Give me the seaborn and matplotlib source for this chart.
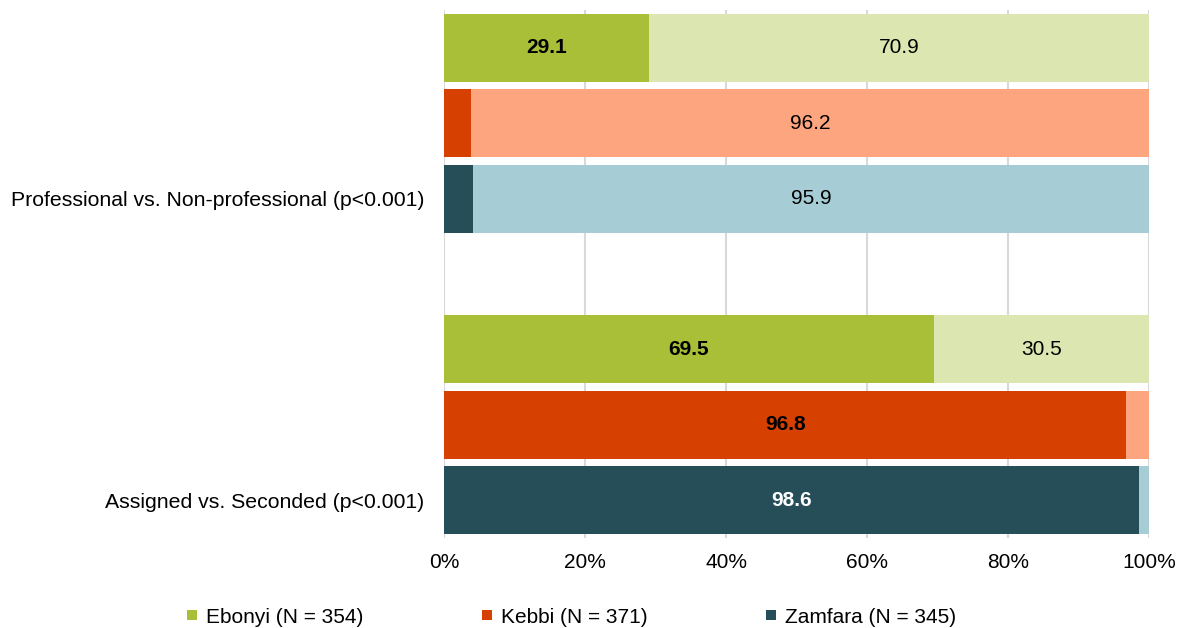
import matplotlib
matplotlib.use("Agg")
import matplotlib.pyplot as plt
from matplotlib.lines import Line2D
import numpy as np
import pandas as pd
import seaborn as sns

# Share of health workers in each category, by state (percent)
states = ["Ebonyi", "Kebbi", "Zamfara"]
state_n = [354, 371, 345]
comparisons = ["Professional vs. Non-professional (p<0.001)",
               "Assigned vs. Seconded (p<0.001)"]
# first category (Professional / Assigned) and second category (Non-professional / Seconded)
first_share = [[29.1, 3.8, 4.1],
               [69.5, 96.8, 98.6]]
second_share = [[70.9, 96.2, 95.9],
                [30.5, 3.2, 1.4]]
# values shown as text on the bars
show_first = [[True, False, False], [True, True, True]]
show_second = [[True, True, True], [True, False, False]]

dark_colors = {"Ebonyi": "#A9BF38", "Kebbi": "#D64000", "Zamfara": "#254E58"}
light_colors = {"Ebonyi": "#DCE6B0", "Kebbi": "#FCA57E", "Zamfara": "#A6CDD6"}
first_text_colors = {"Ebonyi": "black", "Kebbi": "black", "Zamfara": "white"}

sns.set_theme(style="white")
plt.rcParams["font.family"] = ["Liberation Sans", "DejaVu Sans"]
plt.rcParams["text.color"] = "black"

FS = 15

rows = []
for g, comp in enumerate(comparisons):
    for s, st in enumerate(states):
        rows.append({
            "pos": g * (len(states) + 1) + s,
            "state": st,
            "comparison": comp,
            "first": first_share[g][s],
            "second": second_share[g][s],
            "show_first": show_first[g][s],
            "show_second": show_second[g][s],
        })
df = pd.DataFrame(rows)
df["total"] = df["first"] + df["second"]

fig = plt.figure(figsize=(11.8, 6.28), dpi=100)
ax = fig.add_axes([444 / 1180, 1 - 538 / 628, 705 / 1180, 528 / 628])

# full-length bar in the light shade, then the first category on top of it
sns.barplot(data=df, x="total", y="pos", hue="state", palette=light_colors,
            orient="h", native_scale=True, width=0.9, dodge=False,
            saturation=1, legend=False, errorbar=None, linewidth=0, ax=ax)
sns.barplot(data=df, x="first", y="pos", hue="state", palette=dark_colors,
            orient="h", native_scale=True, width=0.9, dodge=False,
            saturation=1, legend=False, errorbar=None, linewidth=0, ax=ax)

for _, r in df.iterrows():
    if r["show_first"]:
        ax.text(r["first"] / 2, r["pos"], f"{r['first']:.1f}", ha="center",
                va="center", fontsize=FS, fontweight="bold",
                color=first_text_colors[r["state"]])
    if r["show_second"]:
        ax.text(r["first"] + r["second"] / 2, r["pos"], f"{r['second']:.1f}",
                ha="center", va="center", fontsize=FS, color="black")

ax.set_xlim(0, 100)
ax.set_ylim(6.5, -0.5)
ax.set_xticks(np.arange(0, 101, 20))
ax.set_xticklabels([f"{v}%" for v in range(0, 101, 20)])
label_pos = [g * (len(states) + 1) + len(states) - 1 for g in range(len(comparisons))]
ax.set_yticks(label_pos)
ax.set_yticklabels(comparisons)
ax.tick_params(axis="x", length=0, pad=11, labelsize=FS, labelcolor="black")
ax.tick_params(axis="y", length=0, pad=14, labelsize=15.3, labelcolor="black")
ax.set_xlabel("")
ax.set_ylabel("")
ax.grid(axis="x", color="#D9D9D9", linewidth=1.5)
ax.set_axisbelow(True)
for sp in ax.spines.values():
    sp.set_visible(False)

handles = [Line2D([], [], marker="s", linestyle="none", markersize=7,
                  markerfacecolor=dark_colors[st], markeredgewidth=0)
           for st in states]
labels = [f"{st} (N = {n})" for st, n in zip(states, state_n)]
fig.legend(handles, labels, loc="center", bbox_to_anchor=(0.484, 0.0175),
           ncol=3, frameon=False, fontsize=FS, handlelength=0.6,
           handletextpad=0.4, columnspacing=5.6, labelcolor="black")

fig.savefig("out.png", dpi=100)
